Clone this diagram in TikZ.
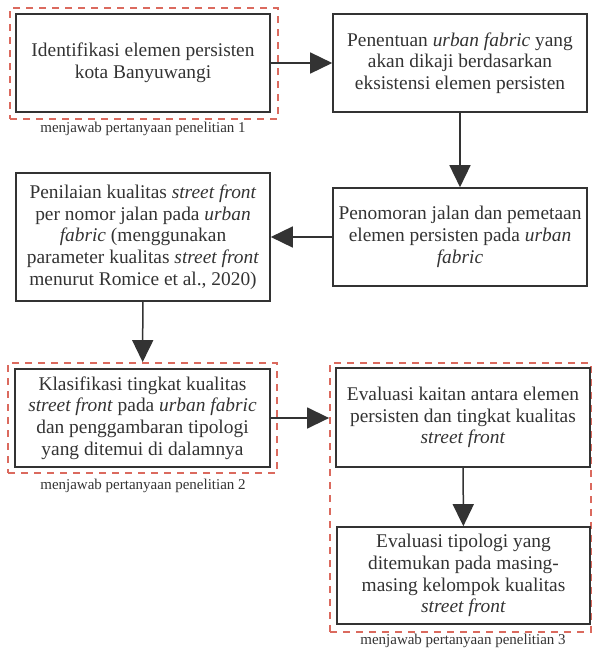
\documentclass[tikz,border=0pt]{standalone}
\usepackage{fontspec}
\setmainfont{Liberation Serif}
\usetikzlibrary{arrows.meta}
\definecolor{inkgray}{HTML}{333333}
\definecolor{answerred}{HTML}{DB6A5E}
\tikzset{
  procbox/.style={draw=inkgray, line width=1.6pt, text=inkgray, align=center,
    minimum width=254pt, minimum height=98pt, inner sep=0pt,
    font=\fontsize{19.4}{21.7}\selectfont},
  answerbox/.style={draw=answerred, line width=1.8pt, dash pattern=on 7pt off 6pt,
    inner sep=0pt},
  answerlabel/.style={text=inkgray, font=\fontsize{15}{16}\selectfont, inner sep=0pt},
  flow/.style={draw=inkgray, line width=1.5pt, -{Triangle[length=22pt, width=21pt]}},
}

\begin{document}
\begin{tikzpicture}[x=1pt, y=-1pt]
\useasboundingbox (0,0) rectangle (593,648);
% dashed frames for the research questions
\node[answerbox, minimum width=268pt, minimum height=111pt] (q1) at (144,63.5) {};
\node[answerbox, minimum width=269pt, minimum height=110pt] (q2) at (142.5,418) {};
\node[answerbox, minimum width=261pt, minimum height=269pt] (q3) at (460.5,497.5) {};
\node[answerlabel] (l1) at (143,129) {menjawab pertanyaan penelitian 1};
\node[answerlabel] (l2) at (143,486) {menjawab pertanyaan penelitian 2};
\node[answerlabel] (l3) at (463,640.5) {menjawab pertanyaan penelitian 3};
% process steps
\node[procbox] (ident) at (143,63) {Identifikasi elemen persisten\\kota Banyuwangi};
\node[procbox] (tentu) at (460,63) {Penentuan \textit{urban fabric} yang\\akan dikaji berdasarkan\\eksistensi elemen persisten};
\node[procbox] (nomor) at (460,237) {Penomoran jalan dan pemetaan\\elemen persisten pada \textit{urban}\\\textit{fabric}};
\node[procbox, minimum height=128pt] (nilai) at (143,237) {Penilaian kualitas \textit{street front}\\per nomor jalan pada \textit{urban}\\\textit{fabric} (menggunakan\\parameter kualitas \textit{street front}\\menurut Romice et al., 2020)};
\node[procbox, minimum width=255pt] (klas) at (142.5,418) {Klasifikasi tingkat kualitas\\\textit{street front} pada \textit{urban fabric}\\dan penggambaran tipologi\\yang ditemui di dalamnya};
\node[procbox, minimum height=99pt] (kait) at (463,417.5) {Evaluasi kaitan antara elemen\\persisten dan tingkat kualitas\\\textit{street front}};
\node[procbox, minimum width=253pt, minimum height=97pt] (tipo) at (463.5,575.5) {Evaluasi tipologi yang\\ditemukan pada masing-\\masing kelompok kualitas\\\textit{street front}};
% connectors
\draw[flow] (ident) -- (tentu);
\draw[flow] (tentu) -- (nomor);
\draw[flow] (nomor) -- (nilai);
\draw[flow] (nilai) -- (q2);
\draw[flow] (klas.east) -- (q3.west |- klas.east);
\draw[flow] (kait) -- (tipo);
\end{tikzpicture}
\end{document}
